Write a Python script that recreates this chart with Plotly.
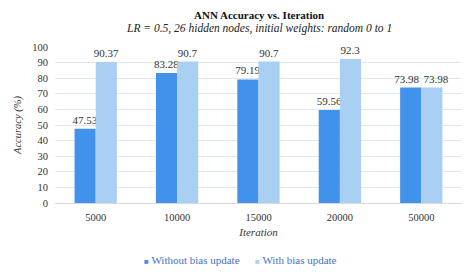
import plotly.graph_objects as go

categories = ["5000", "10000", "15000", "20000", "50000"]
without_bias = [47.53, 83.28, 79.19, 59.56, 73.98]
with_bias = [90.37, 90.7, 90.7, 92.3, 73.98]
y_ticks = list(range(0, 101, 10))
series_names = ["Without bias update", "With bias update"]
series_colors = ["#4192EA", "#A9D0F3"]

font_serif = "Liberation Serif, Times New Roman, serif"
pad = "\u00a0" * 3

def labels(vals, other, side):
    out = []
    for v, o in zip(vals, other):
        t = f"{v:g}"
        if abs(v - o) < 6:
            t = t + pad if side < 0 else pad + t
        out.append(t)
    return out

fig = go.Figure()
for si, (name, vals, col) in enumerate(zip(series_names, [without_bias, with_bias], series_colors)):
    other = with_bias if si == 0 else without_bias
    fig.add_trace(go.Bar(
        x=categories, y=vals, name=name,
        marker=dict(color=col, line=dict(width=0)),
        text=labels(vals, other, -1 if si == 0 else 1), textposition="outside",
        textfont=dict(family=font_serif, size=11, color="#333333"),
        cliponaxis=False, constraintext="none", showlegend=False,
    ))

fig.add_annotation(
    text="<b>ANN Accuracy vs. Iteration</b>", xref="paper", yref="paper",
    x=0.5, y=1 + (47 - 15) / 156, xanchor="center", yanchor="middle",
    showarrow=False, font=dict(family=font_serif, size=11, color="#111111"),
)
fig.add_annotation(
    text="<i>LR = 0.5, 26 hidden nodes, initial weights: random 0 to 1</i>",
    xref="paper", yref="paper",
    x=0.5, y=1 + (47 - 29) / 156, xanchor="center", yanchor="middle",
    showarrow=False, font=dict(family=font_serif, size=11.5, color="#222222"),
)

# legend drawn as text with coloured squares
legend_x = [142 / 474, 253 / 474]
for name, col, lx in zip(series_names, series_colors, legend_x):
    fig.add_annotation(
        text=f"<span style='color:{col};font-size:8px'>■</span> {name}",
        xref="paper", yref="paper",
        x=(lx * 474 - 55) / 407, y=(203 - 260) / 156,
        xanchor="left", yanchor="middle", showarrow=False,
        font=dict(family=font_serif, size=11, color="#4472C4"),
    )

fig.update_layout(
    width=474, height=277,
    margin=dict(l=55, r=12, t=47, b=74, autoexpand=False),
    paper_bgcolor="white", plot_bgcolor="white",
    barmode="group", bargap=0.48, bargroupgap=0,
    font=dict(family=font_serif, size=11, color="#333333"),
    xaxis=dict(
        type="category",
        title=dict(text="<i>Iteration</i>", font=dict(size=11), standoff=6),
        showline=True, linecolor="#d9d9d9", ticks="", tickfont=dict(size=10.5),
        automargin=False, ticklabelstandoff=4,
    ),
    yaxis=dict(
        title=dict(text="<i>Accuracy (%)</i>", font=dict(size=10.5), standoff=8),
        range=[0, 100], tickvals=y_ticks, showgrid=True, gridcolor="#deeaf3",
        zeroline=False, ticks="", tickfont=dict(size=10.5), automargin=False,
        ticklabelstandoff=6,
    ),
    showlegend=False,
)

fig.write_html("out.html")
